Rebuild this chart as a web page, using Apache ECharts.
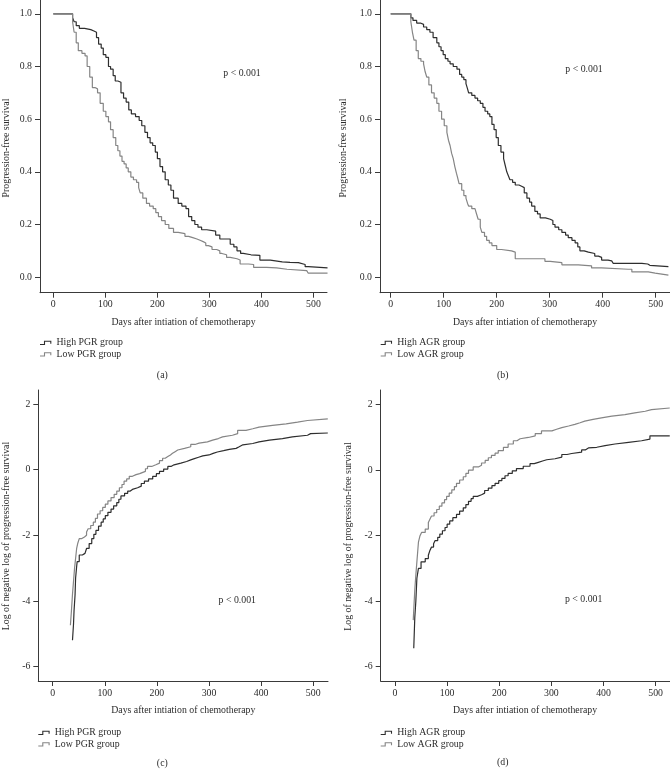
<!DOCTYPE html>
<html>
<head>
<meta charset="utf-8">
<script src="https://cdn.jsdelivr.net/npm/echarts@6/dist/echarts.min.js"></script>
<style>
html,body{margin:0;padding:0;background:#fff;}
#chart{width:670px;height:769px;}
</style>
</head>
<body>
<div id="chart"></div>
<script>
// ---------- DATA ----------
const xTicks = [0, 100, 200, 300, 400, 500];
const survTicks = [0, 0.2, 0.4, 0.6, 0.8, 1.0];
const loglogTicks = [-6, -4, -2, 0, 2];

const xTitle = 'Days after intiation of chemotherapy';
const survTitle = 'Progression-free survival';
const loglogTitle = 'Log of negative log of progression-free survival';
const pText = 'p < 0.001';
const pgrNames = ['High PGR group', 'Low PGR group'];
const agrNames = ['High AGR group', 'Low AGR group'];
const panelLabels = ['(a)', '(b)', '(c)', '(d)'];

// (a) Progression-free survival by PGR group: [day, survival]
const pgrHighSurv = [[0,1],[37,0.985],[40,0.97],[44,0.955],[50,0.945],[60,0.94],[72,0.935],[78,0.93],[83,0.91],[87,0.885],[92,0.87],[96,0.845],[101,0.835],[106,0.80],[110,0.79],[115,0.765],[119,0.745],[124,0.74],[130,0.70],[135,0.68],[140,0.665],[145,0.635],[150,0.62],[158,0.61],[165,0.595],[170,0.575],[176,0.55],[181,0.53],[186,0.51],[191,0.50],[196,0.475],[200,0.45],[205,0.42],[210,0.40],[215,0.37],[221,0.35],[226,0.33],[231,0.30],[240,0.28],[247,0.27],[255,0.26],[260,0.23],[266,0.215],[272,0.20],[278,0.19],[285,0.18],[295,0.175],[312,0.16],[320,0.145],[340,0.125],[347,0.115],[353,0.10],[360,0.09],[365,0.085],[380,0.083],[397,0.065],[417,0.058],[440,0.056],[455,0.055],[471,0.048],[484,0.04],[490,0.035],[527,0.035]];
const pgrLowSurv = [[0,1],[37,0.97],[40,0.93],[44,0.89],[48,0.86],[55,0.85],[61,0.84],[65,0.80],[70,0.76],[75,0.72],[80,0.715],[85,0.70],[90,0.66],[96,0.63],[101,0.61],[106,0.59],[110,0.56],[115,0.53],[120,0.50],[124,0.48],[128,0.46],[132,0.44],[136,0.43],[140,0.415],[144,0.40],[149,0.38],[154,0.37],[160,0.36],[164,0.34],[167,0.32],[172,0.30],[179,0.28],[185,0.27],[192,0.26],[197,0.245],[202,0.23],[208,0.215],[215,0.20],[222,0.185],[231,0.17],[240,0.165],[253,0.155],[260,0.15],[268,0.145],[276,0.14],[282,0.135],[288,0.13],[293,0.12],[298,0.115],[305,0.105],[314,0.10],[320,0.09],[324,0.085],[333,0.075],[340,0.07],[353,0.065],[359,0.05],[375,0.048],[385,0.037],[410,0.035],[429,0.03],[449,0.025],[487,0.02],[490,0.015],[527,0.015]];

// (b) Progression-free survival by AGR group: [day, survival]
const agrHighSurv = [[0,1],[38,0.985],[42,0.975],[49,0.965],[56,0.96],[62,0.95],[68,0.94],[74,0.93],[80,0.91],[87,0.89],[91,0.875],[95,0.86],[99,0.845],[103,0.83],[108,0.82],[112,0.81],[118,0.80],[125,0.79],[130,0.77],[134,0.76],[138,0.75],[142,0.735],[145,0.715],[147,0.70],[153,0.69],[159,0.68],[164,0.67],[169,0.66],[174,0.645],[178,0.63],[183,0.62],[187,0.61],[191,0.58],[195,0.56],[199,0.53],[203,0.50],[208,0.475],[213,0.45],[216,0.425],[219,0.40],[222,0.385],[225,0.37],[230,0.36],[235,0.35],[242,0.345],[247,0.34],[252,0.32],[257,0.30],[262,0.285],[266,0.27],[272,0.25],[277,0.24],[282,0.225],[292,0.22],[301,0.215],[306,0.20],[310,0.19],[317,0.18],[323,0.17],[330,0.16],[335,0.15],[342,0.14],[348,0.13],[353,0.115],[357,0.10],[365,0.095],[373,0.09],[385,0.08],[392,0.075],[398,0.065],[410,0.062],[417,0.06],[420,0.052],[474,0.05],[485,0.045],[489,0.04],[524,0.04]];
const agrLowSurv = [[0,1],[38,0.97],[41,0.93],[44,0.90],[48,0.86],[52,0.83],[57,0.82],[62,0.81],[65,0.78],[68,0.76],[72,0.73],[77,0.70],[82,0.68],[87,0.66],[91,0.63],[96,0.60],[101,0.575],[106,0.55],[109,0.52],[112,0.50],[115,0.47],[118,0.45],[121,0.42],[124,0.395],[126,0.38],[129,0.355],[134,0.33],[138,0.31],[142,0.30],[145,0.28],[147,0.27],[153,0.26],[159,0.255],[162,0.24],[165,0.22],[169,0.19],[172,0.17],[177,0.155],[181,0.14],[186,0.13],[191,0.12],[200,0.105],[209,0.10],[228,0.095],[235,0.07],[285,0.07],[291,0.06],[301,0.055],[323,0.047],[354,0.043],[379,0.035],[398,0.03],[448,0.03],[455,0.02],[486,0.015],[499,0.008],[524,0.008]];

// (c) Log of negative log of PFS by PGR group: [day, value]
const pgrHighLogLog = [[38,-5.2],[40,-4.7],[41,-4.3],[43,-3.8],[44,-3.3],[46,-2.95],[47,-2.8],[51,-2.6],[57,-2.55],[62,-2.5],[65,-2.4],[70,-2.25],[75,-2.1],[79,-1.97],[83,-1.85],[88,-1.72],[93,-1.6],[97,-1.5],[101,-1.4],[106,-1.3],[112,-1.2],[117,-1.1],[123,-1.0],[127,-0.9],[131,-0.8],[138,-0.72],[144,-0.65],[149,-0.6],[153,-0.55],[163,-0.5],[170,-0.42],[176,-0.35],[184,-0.28],[192,-0.2],[199,-0.12],[205,-0.05],[213,0.02],[221,0.1],[227,0.15],[233,0.2],[246,0.25],[257,0.3],[265,0.34],[272,0.38],[280,0.42],[288,0.45],[300,0.5],[308,0.54],[316,0.58],[328,0.62],[339,0.65],[352,0.7],[358,0.76],[365,0.8],[384,0.85],[396,0.9],[416,0.95],[441,1.0],[460,1.05],[489,1.1],[495,1.12],[528,1.12]];
const pgrLowLogLog = [[34,-4.74],[36,-4.3],[38,-3.8],[40,-3.4],[42,-3.0],[44,-2.7],[46,-2.4],[48,-2.25],[51,-2.1],[56,-2.05],[61,-2.0],[65,-1.9],[68,-1.8],[73,-1.7],[78,-1.6],[82,-1.48],[86,-1.35],[91,-1.25],[96,-1.15],[101,-1.05],[106,-0.95],[112,-0.85],[118,-0.75],[123,-0.65],[128,-0.55],[133,-0.45],[137,-0.35],[142,-0.28],[147,-0.2],[153,-0.15],[160,-0.12],[167,-0.08],[173,-0.05],[178,0.03],[182,0.1],[190,0.15],[198,0.2],[205,0.28],[211,0.35],[216,0.4],[221,0.45],[226,0.5],[230,0.55],[235,0.6],[240,0.65],[253,0.7],[265,0.77],[273,0.81],[281,0.85],[297,0.9],[307,0.95],[318,1.0],[326,1.05],[345,1.1],[355,1.2],[371,1.25],[384,1.3],[396,1.35],[422,1.4],[448,1.45],[470,1.5],[489,1.55],[528,1.55]];

// (d) Log of negative log of PFS by AGR group: [day, value]
const agrHighLogLog = [[36,-5.44],[38,-4.5],[40,-4.0],[42,-3.3],[45,-3.0],[50,-2.8],[58,-2.7],[64,-2.6],[67,-2.45],[70,-2.35],[74,-2.25],[77,-2.15],[82,-2.05],[86,-1.95],[91,-1.85],[96,-1.75],[100,-1.65],[105,-1.55],[111,-1.45],[118,-1.35],[124,-1.25],[131,-1.15],[136,-1.05],[141,-0.95],[146,-0.87],[150,-0.8],[158,-0.75],[166,-0.7],[172,-0.62],[179,-0.55],[186,-0.47],[192,-0.4],[199,-0.32],[205,-0.25],[211,-0.17],[217,-0.1],[225,-0.02],[233,0.05],[246,0.12],[259,0.2],[267,0.24],[275,0.28],[283,0.32],[291,0.35],[307,0.4],[320,0.48],[330,0.51],[339,0.55],[358,0.62],[365,0.68],[371,0.7],[387,0.75],[403,0.8],[422,0.85],[448,0.9],[473,0.95],[489,1.05],[527,1.05]];
const agrLowLogLog = [[35,-4.58],[38,-3.65],[40,-3.2],[42,-2.8],[44,-2.4],[45,-2.2],[48,-2.0],[51,-1.9],[58,-1.8],[64,-1.6],[67,-1.5],[70,-1.4],[75,-1.3],[80,-1.2],[85,-1.1],[90,-1.0],[95,-0.9],[99,-0.8],[104,-0.7],[109,-0.6],[114,-0.5],[118,-0.4],[124,-0.3],[131,-0.2],[136,-0.1],[141,0.0],[150,0.1],[160,0.15],[166,0.22],[173,0.3],[179,0.38],[185,0.45],[192,0.52],[198,0.6],[208,0.7],[217,0.8],[227,0.9],[234,0.96],[240,1.0],[256,1.05],[269,1.12],[281,1.2],[301,1.25],[310,1.3],[320,1.35],[333,1.4],[345,1.45],[355,1.5],[364,1.55],[380,1.6],[396,1.65],[416,1.7],[441,1.75],[460,1.8],[480,1.85],[492,1.9],[527,1.9]];

// ---------- STYLE / LAYOUT ----------
const FONT = '"Liberation Serif","DejaVu Serif",serif';
const FS = 9.8;
const TXT = '#2b2b2b';
const AX = '#3a3a3a';
const DARK = '#2e2e2e';
const GRAY = '#858585';
const LW = 1.2;

const panels = [
  {grid:{left:40, top:0, width:287, height:292.7}, x:[-25.6,526], y:[-0.059,1.0525], ticks:survTicks, fmt:v=>v.toFixed(1),
   series:[pgrHighSurv, pgrLowSurv], names:pgrNames, yTitle:survTitle,
   yTitlePos:[6,148], xTitlePos:[183.5,322], pPos:[242,73.3], legX:40, legY:[342.5,354], lab:[162.3,375]},
  {grid:{left:380, top:0, width:290, height:292.7}, x:[-20.2,527], y:[-0.059,1.0525], ticks:survTicks, fmt:v=>v.toFixed(1),
   series:[agrHighSurv, agrLowSurv], names:agrNames, yTitle:survTitle,
   yTitlePos:[343.3,148], xTitlePos:[525,322], pPos:[584,69.3], legX:380.7, legY:[342.5,354], lab:[502.7,375]},
  {grid:{left:38.3, top:390, width:289.7, height:291}, x:[-27.6,528.4], y:[-6.44,2.43], ticks:loglogTicks, fmt:v=>String(v),
   series:[pgrHighLogLog, pgrLowLogLog], names:pgrNames, yTitle:loglogTitle,
   yTitlePos:[6,536], xTitlePos:[183.3,710], pPos:[237.3,600.7], legX:38.3, legY:[732.5,744], lab:[162.3,763]},
  {grid:{left:380.7, top:390, width:289.3, height:291}, x:[-27.4,527.5], y:[-6.44,2.45], ticks:loglogTicks, fmt:v=>String(v),
   series:[agrHighLogLog, agrLowLogLog], names:agrNames, yTitle:loglogTitle,
   yTitlePos:[348.3,536.5], xTitlePos:[525,710.5], pPos:[583.7,599.3], legX:380.7, legY:[732.5,744], lab:[502.7,762]}
];

const grids = [], xAxes = [], yAxes = [], series = [], graphics = [];
const textStyle = (t, x, y, extra) => Object.assign({text:t, x:x, y:y, font: FS + 'px ' + FONT, fill: TXT, align:'center', verticalAlign:'middle'}, extra || {});

panels.forEach((p, i) => {
  grids.push(Object.assign({containLabel:false, outerBoundsMode:'none'}, p.grid));
  xAxes.push({
    type:'value', gridIndex:i, min:p.x[0], max:p.x[1],
    axisLine:{show:true, onZero:false, lineStyle:{color:AX, width:1}},
    axisTick:{show:true, inside:false, length:5, customValues:xTicks, lineStyle:{color:AX}},
    axisLabel:{show:true, customValues:xTicks, margin:7, color:TXT, fontFamily:FONT, fontSize:FS, formatter:v=>String(v)},
    splitLine:{show:false}
  });
  yAxes.push({
    type:'value', gridIndex:i, min:p.y[0], max:p.y[1],
    axisLine:{show:true, onZero:false, lineStyle:{color:AX, width:1}},
    axisTick:{show:true, inside:false, length:5, customValues:p.ticks, lineStyle:{color:AX}},
    axisLabel:{show:true, customValues:p.ticks, margin:8, color:TXT, fontFamily:FONT, fontSize:FS, formatter:p.fmt},
    splitLine:{show:false}
  });
  p.series.forEach((d, k) => {
    series.push({
      type:'line', name:p.names[k], xAxisIndex:i, yAxisIndex:i, data:d, step:'end',
      showSymbol:false, symbol:'none', silent:true, clip:true,
      lineStyle:{color: k===0 ? DARK : GRAY, width:LW}
    });
  });
  graphics.push({type:'text', x:p.xTitlePos[0], y:p.xTitlePos[1], style:textStyle(xTitle,0,0)});
  graphics.push({type:'text', x:p.yTitlePos[0], y:p.yTitlePos[1], rotation:Math.PI/2, style:textStyle(p.yTitle,0,0)});
  graphics.push({type:'text', x:p.pPos[0], y:p.pPos[1], style:textStyle(pText,0,0)});
  graphics.push({type:'text', x:p.lab[0], y:p.lab[1], style:textStyle(panelLabels[i],0,0)});
  p.names.forEach((nm, k) => {
    const yy = p.legY[k];
    const x0 = p.legX;
    graphics.push({type:'polyline', shape:{points:[[x0, yy+2],[x0+4.5, yy+2],[x0+4.5, yy-1.2],[x0+10.8, yy-1.2],[x0+10.8, yy+1.3]]},
      style:{stroke: k===0 ? DARK : GRAY, lineWidth:1.1, fill:null}});
    graphics.push({type:'text', x:x0+16.5, y:yy, style:textStyle(nm,0,0,{align:'left'})});
  });
});

const chart = echarts.init(document.getElementById('chart'), null, {renderer:'canvas'});
chart.setOption({
  animation:false,
  backgroundColor:'#ffffff',
  grid:grids, xAxis:xAxes, yAxis:yAxes, series:series,
  graphic:{elements:graphics}
});
</script>
</body>
</html>
